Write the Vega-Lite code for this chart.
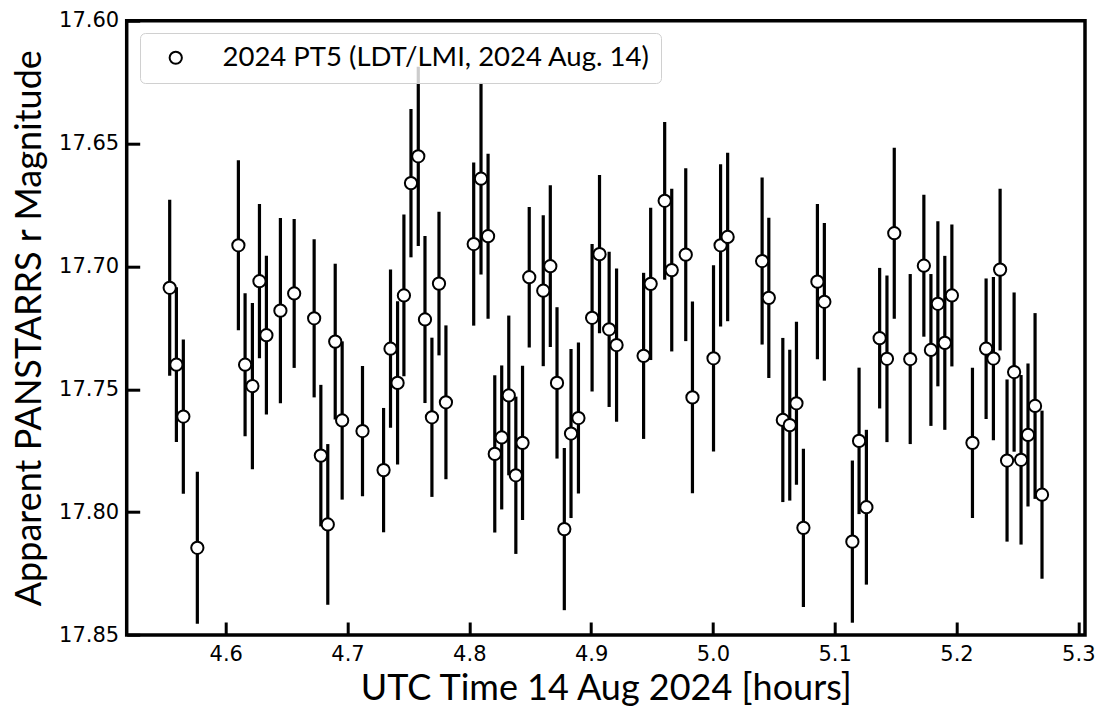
{
  "$schema": "https://vega.github.io/schema/vega-lite/v6.json",
  "autosize": {"type": "none"},
  "width": 958.3,
  "height": 614.3,
  "padding": {"left": 126.7, "top": 20.7, "right": 13, "bottom": 72},
  "background": "white",
  "config": {
    "view": {"stroke": "black", "strokeWidth": 3.5}
  },
  "datasets": {
    "xticks": [{"t": 4.6}, {"t": 4.7}, {"t": 4.8}, {"t": 4.9}, {"t": 5.0}, {"t": 5.1}, {"t": 5.2}, {"t": 5.3}],
    "yticks": [{"mag": 17.65}, {"mag": 17.70}, {"mag": 17.75}, {"mag": 17.80}],
    "phot": [
    {"t": 4.554, "mag": 17.7087, "err": 0.0358},
    {"t": 4.5595, "mag": 17.740, "err": 0.0315},
    {"t": 4.5652, "mag": 17.7611, "err": 0.0314},
    {"t": 4.5767, "mag": 17.8145, "err": 0.0309},
    {"t": 4.6104, "mag": 17.6914, "err": 0.0346},
    {"t": 4.6159, "mag": 17.7400, "err": 0.0291},
    {"t": 4.6219, "mag": 17.7487, "err": 0.0338},
    {"t": 4.6277, "mag": 17.7060, "err": 0.0314},
    {"t": 4.6334, "mag": 17.7280, "err": 0.0323},
    {"t": 4.6449, "mag": 17.7180, "err": 0.0377},
    {"t": 4.6562, "mag": 17.7110, "err": 0.0303},
    {"t": 4.6726, "mag": 17.7211, "err": 0.0322},
    {"t": 4.6781, "mag": 17.7770, "err": 0.0288},
    {"t": 4.6838, "mag": 17.8050, "err": 0.0327},
    {"t": 4.6899, "mag": 17.7306, "err": 0.0317},
    {"t": 4.6956, "mag": 17.7627, "err": 0.0322},
    {"t": 4.7123, "mag": 17.7670, "err": 0.0265},
    {"t": 4.7296, "mag": 17.7829, "err": 0.0253},
    {"t": 4.7353, "mag": 17.7335, "err": 0.0322},
    {"t": 4.7411, "mag": 17.7474, "err": 0.0332},
    {"t": 4.7463, "mag": 17.7118, "err": 0.0329},
    {"t": 4.7521, "mag": 17.6661, "err": 0.0302},
    {"t": 4.7581, "mag": 17.6552, "err": 0.0365},
    {"t": 4.7636, "mag": 17.7216, "err": 0.0340},
    {"t": 4.7693, "mag": 17.7614, "err": 0.0324},
    {"t": 4.7751, "mag": 17.7070, "err": 0.0292},
    {"t": 4.7808, "mag": 17.7553, "err": 0.0313},
    {"t": 4.8036, "mag": 17.6909, "err": 0.0332},
    {"t": 4.8096, "mag": 17.6643, "err": 0.0390},
    {"t": 4.8154, "mag": 17.6877, "err": 0.0336},
    {"t": 4.8209, "mag": 17.7763, "err": 0.0320},
    {"t": 4.8266, "mag": 17.7696, "err": 0.0293},
    {"t": 4.8324, "mag": 17.7525, "err": 0.0325},
    {"t": 4.8382, "mag": 17.7850, "err": 0.0320},
    {"t": 4.8437, "mag": 17.7718, "err": 0.0314},
    {"t": 4.8492, "mag": 17.7044, "err": 0.0286},
    {"t": 4.8607, "mag": 17.7099, "err": 0.0307},
    {"t": 4.8665, "mag": 17.6999, "err": 0.0329},
    {"t": 4.8720, "mag": 17.7474, "err": 0.0308},
    {"t": 4.8780, "mag": 17.8069, "err": 0.0330},
    {"t": 4.8835, "mag": 17.7680, "err": 0.0344},
    {"t": 4.8896, "mag": 17.7617, "err": 0.0307},
    {"t": 4.9008, "mag": 17.7209, "err": 0.0300},
    {"t": 4.9069, "mag": 17.6950, "err": 0.0322},
    {"t": 4.9148, "mag": 17.7256, "err": 0.0316},
    {"t": 4.9209, "mag": 17.7320, "err": 0.0312},
    {"t": 4.9431, "mag": 17.7364, "err": 0.0338},
    {"t": 4.9489, "mag": 17.7071, "err": 0.0310},
    {"t": 4.9604, "mag": 17.6733, "err": 0.0321},
    {"t": 4.9662, "mag": 17.7015, "err": 0.0331},
    {"t": 4.9777, "mag": 17.6952, "err": 0.0352},
    {"t": 4.9832, "mag": 17.7533, "err": 0.0390},
    {"t": 5.0005, "mag": 17.7374, "err": 0.0379},
    {"t": 5.0063, "mag": 17.6914, "err": 0.0330},
    {"t": 5.0121, "mag": 17.6880, "err": 0.0343},
    {"t": 5.0404, "mag": 17.6978, "err": 0.0340},
    {"t": 5.0459, "mag": 17.7128, "err": 0.0326},
    {"t": 5.0574, "mag": 17.7625, "err": 0.0334},
    {"t": 5.0631, "mag": 17.7646, "err": 0.0307},
    {"t": 5.0686, "mag": 17.7557, "err": 0.0332},
    {"t": 5.0743, "mag": 17.8064, "err": 0.0322},
    {"t": 5.0858, "mag": 17.7062, "err": 0.0316},
    {"t": 5.0915, "mag": 17.7144, "err": 0.0321},
    {"t": 5.1145, "mag": 17.8120, "err": 0.0330},
    {"t": 5.1200, "mag": 17.7710, "err": 0.0298},
    {"t": 5.1260, "mag": 17.7980, "err": 0.0315},
    {"t": 5.1369, "mag": 17.7292, "err": 0.0286},
    {"t": 5.1429, "mag": 17.7376, "err": 0.0339},
    {"t": 5.1489, "mag": 17.6865, "err": 0.0348},
    {"t": 5.1620, "mag": 17.7377, "err": 0.0346},
    {"t": 5.1732, "mag": 17.6997, "err": 0.0289},
    {"t": 5.1790, "mag": 17.7340, "err": 0.0309},
    {"t": 5.1847, "mag": 17.7152, "err": 0.0336},
    {"t": 5.1904, "mag": 17.7311, "err": 0.0354},
    {"t": 5.1962, "mag": 17.7118, "err": 0.0289},
    {"t": 5.2131, "mag": 17.7718, "err": 0.0306},
    {"t": 5.2243, "mag": 17.7335, "err": 0.0286},
    {"t": 5.2303, "mag": 17.7375, "err": 0.0332},
    {"t": 5.2358, "mag": 17.7013, "err": 0.0329},
    {"t": 5.2415, "mag": 17.7790, "err": 0.0330},
    {"t": 5.2473, "mag": 17.7430, "err": 0.0324},
    {"t": 5.2530, "mag": 17.7787, "err": 0.0345},
    {"t": 5.2587, "mag": 17.7686, "err": 0.0291},
    {"t": 5.2645, "mag": 17.7568, "err": 0.0378},
    {"t": 5.2702, "mag": 17.7929, "err": 0.0342}
    ]
  },
  "data": {"name": "phot"},
  "encoding": {
    "x": {"field": "t", "type": "quantitative",
      "scale": {"domain": [4.5187, 5.3055], "nice": false, "zero": false},
      "axis": {"title": "UTC Time 14 Aug 2024 [hours]", "values": [4.6, 4.7, 4.8, 4.9, 5.0, 5.1, 5.2, 5.3], "format": ".1f",
        "grid": false, "domain": false, "offset": -13, "ticks": true, "tickSize": 13, "tickWidth": 3, "tickColor": "black",
        "labelFont": "DejaVu Sans", "labelFontSize": 21, "labelColor": "black", "labelPadding": 8,
        "titleFont": "Lato", "titleFontSize": 36, "titleFontWeight": "normal", "titleColor": "black",
        "titleBaseline": "alphabetic", "titleX": 479, "titleY": 77, "titleAlign": "center"}},
    "y": {"field": "mag", "type": "quantitative",
      "scale": {"domain": [17.60, 17.85], "reverse": true, "nice": false, "zero": false},
      "axis": {"title": "Apparent PANSTARRS r Magnitude", "values": [17.60, 17.65, 17.70, 17.75, 17.80, 17.85], "format": ".2f",
        "grid": false, "domain": false, "offset": -13, "ticks": true, "tickSize": 13, "tickWidth": 3, "tickColor": "black",
        "labelFont": "DejaVu Sans", "labelFontSize": 21, "labelColor": "black", "labelPadding": 8,
        "titleFont": "Lato", "titleFontSize": 36, "titleFontWeight": "normal", "titleColor": "black",
        "titleBaseline": "alphabetic", "titleX": -99.7, "titleY": 307, "titleAlign": "center", "titleAngle": -90}}
  },
  "layer": [
    {
      "data": {"name": "xticks"},
      "mark": {"type": "rule", "strokeWidth": 3, "color": "black"},
      "encoding": {"y": {"datum": 17.85, "type": "quantitative"}, "y2": {"datum": 17.8447}}
    },
    {
      "data": {"name": "yticks"},
      "mark": {"type": "rule", "strokeWidth": 3, "color": "black"},
      "encoding": {"x": {"datum": 4.5187, "type": "quantitative"}, "x2": {"datum": 4.5294}}
    },
    {
      "mark": {"type": "errorbar", "thickness": 3.2, "color": "black", "clip": true},
      "encoding": {"yError": {"field": "err"}}
    },
    {
      "mark": {"type": "point", "shape": "circle", "filled": false, "fill": "white", "fillOpacity": 1, "strokeWidth": 2, "size": 150, "opacity": 1},
      "encoding": {
        "color": {"datum": "2024 PT5 (LDT/LMI, 2024 Aug. 14)", "type": "nominal",
          "scale": {"range": ["black"]},
          "legend": {"title": null, "orient": "none", "legendX": 13.3, "legendY": 12.3,
            "labelFont": "Lato", "labelFontSize": 27.5, "labelColor": "black", "labelLimit": 800,
            "symbolType": "circle", "symbolFillColor": "white", "symbolStrokeWidth": 2, "symbolSize": 150, "symbolOpacity": 1,
            "fillColor": "rgba(255,255,255,0.8)", "strokeColor": "#d0d0d0", "cornerRadius": 5,
            "padding": 11, "symbolOffset": 11, "labelOffset": 33, "zindex": 4}}
      }
    }
  ]
}
